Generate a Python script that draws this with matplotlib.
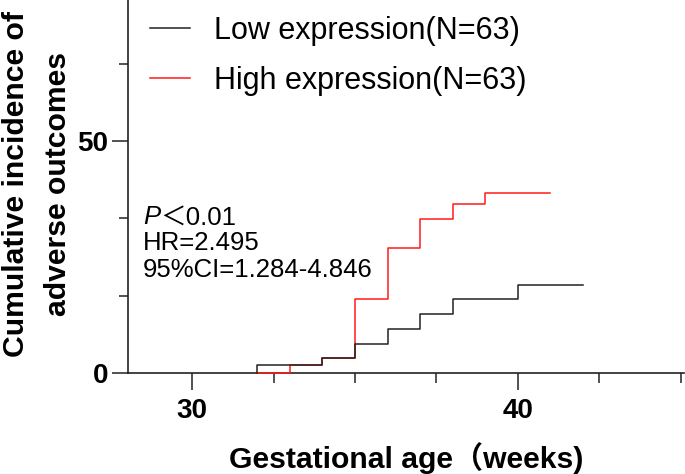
import matplotlib
matplotlib.use("Agg")
import matplotlib.pyplot as plt
from matplotlib.ticker import MultipleLocator, FixedLocator
from matplotlib.transforms import offset_copy

# ---- data ----
low_weeks = [32, 32, 34, 35, 36, 37, 38, 40, 42]
low_incidence = [0, 1.6, 3.2, 6.3, 9.5, 12.7, 15.9, 19.0, 19.0]
high_weeks = [32, 33, 34, 35, 36, 37, 38, 39, 41]
high_incidence = [0, 1.6, 3.2, 15.9, 27.0, 33.3, 36.5, 38.9, 38.9]
series_labels = ["Low expression(N=63)", "High expression(N=63)"]
x_major_ticks = [30, 40]
y_major_ticks = [0, 50]
stats_p = "＜0.01"
stats_lines = ["HR=2.495", "95%CI=1.284-4.846"]

plt.rcParams['font.family'] = ['Liberation Sans', 'Noto Sans CJK SC', 'DejaVu Sans']

W, H = 685, 474
fig = plt.figure(figsize=(W / 100, H / 100), dpi=100)
ax_l, ax_r, ax_b = 127.7, 684.0, 372.7
ax = fig.add_axes([ax_l / W, 1 - ax_b / H, (ax_r - ax_l) / W, ax_b / H])

ax.step(high_weeks, high_incidence, where='post', color='#ff1a1a', lw=1.1,
        zorder=3, clip_on=False, label=series_labels[1])
ax.step(low_weeks, low_incidence, where='post', color='#222222', lw=1.1,
        zorder=4, clip_on=False, label=series_labels[0])

ax.set_xlim(28.02, 45.1)
ax.set_ylim(0, 80.5)

for s in ['top', 'right']:
    ax.spines[s].set_visible(False)
for s in ['left', 'bottom']:
    ax.spines[s].set_linewidth(1.2)
    ax.spines[s].set_color('#222222')

ax.xaxis.set_major_locator(FixedLocator(x_major_ticks))
ax.xaxis.set_minor_locator(MultipleLocator(2.5))
ax.yaxis.set_major_locator(FixedLocator(y_major_ticks))
ax.yaxis.set_minor_locator(MultipleLocator(50 / 3))
ax.tick_params(axis='x', which='major', length=12.5, width=1.1, pad=6,
               labelsize=20, color='#222222')
ax.tick_params(axis='x', which='minor', length=7.2, width=1.1, color='#222222')
ax.tick_params(axis='y', which='major', length=11.5, width=1.1, pad=2.5,
               labelsize=20, color='#222222')
ax.tick_params(axis='y', which='minor', length=6.8, width=1.1, color='#222222')
for lab in ax.get_xticklabels() + ax.get_yticklabels():
    lab.set_fontweight('bold')

# axis labels
fig.text(406 / W, (H - 468.5) / H, "Gestational age（weeks)", ha='center',
         va='baseline', fontsize=21.7, fontweight='bold')
fig.text(37 / W, 1 - 184 / H, "Cumulative incidence of\nadverse outcomes",
         rotation=90, ha='center', va='center', multialignment='center',
         fontsize=21.7, fontweight='bold', linespacing=1.6)

# legend
handles, labels = ax.get_legend_handles_labels()
order = [1, 0]
leg = ax.legend([handles[i] for i in order], [labels[i] for i in order],
                loc='upper left', bbox_to_anchor=(150 / W, 1 - 16 / H),
                bbox_transform=fig.transFigure, frameon=False, fontsize=22,
                handlelength=1.32, handletextpad=0.76, labelspacing=0.65,
                borderpad=0, borderaxespad=0)

# statistics annotation
x0 = 28.49
fs = 18.5
t1 = ax.text(x0, 32.05, "P", style='italic', fontsize=fs, va='baseline')
fig.canvas.draw()
bb = t1.get_window_extent(fig.canvas.get_renderer())
tr = offset_copy(ax.transData, fig=fig, x=bb.width * 72 / fig.dpi, y=0, units='points')
ax.text(x0, 32.05, stats_p, fontsize=fs, va='baseline', transform=tr)
ax.text(x0, 26.5, stats_lines[0], fontsize=fs, va='baseline')
ax.text(x0, 20.7, stats_lines[1], fontsize=fs, va='baseline')

fig.savefig("out.png", dpi=100)
